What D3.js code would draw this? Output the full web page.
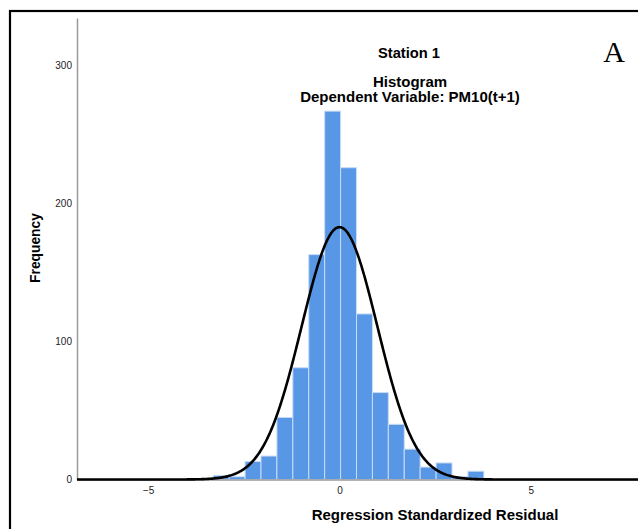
<!DOCTYPE html>
<html>
<head>
<meta charset="utf-8">
<script src="https://cdn.jsdelivr.net/npm/d3@7"></script>
<style>
body { margin: 0; background: #fff; }
text { font-family: Arial, "Liberation Sans", sans-serif; }
</style>
</head>
<body>
<script>
// histogram counts
var binStart = -3.30;
var binWidth = 0.416;
var counts = [3, 2, 13, 17, 45, 81, 163, 267, 226, 120, 63, 40, 22, 9, 12, 2, 6];

// fitted normal curve parameters
var resMean = 0.0;
var resSD = 0.99;

var xTicks = [-5, 0, 5];
var yTicks = [0, 100, 200, 300];

var width = 638, height = 529;

var svg = d3.select("body").append("svg")
    .attr("width", width)
    .attr("height", height);

// outer frame (runs off the right / bottom)
svg.append("rect")
    .attr("x", 10).attr("y", 11)
    .attr("width", 700).attr("height", 600)
    .attr("fill", "none")
    .attr("stroke", "#000")
    .attr("stroke-width", 2.2);

var x = d3.scaleLinear().domain([-6.86, 7.8]).range([77, 638]);
var y = d3.scaleLinear().domain([0, 334.5]).range([479.5, 18]);

var bins = counts.map(function(c, i) {
    return {x0: binStart + i * binWidth, x1: binStart + (i + 1) * binWidth, n: c};
});

var N = d3.sum(counts);

svg.append("g").selectAll("rect")
    .data(bins)
    .enter().append("rect")
    .attr("x", function(d) { return x(d.x0); })
    .attr("width", function(d) { return x(d.x1) - x(d.x0); })
    .attr("y", function(d) { return y(d.n); })
    .attr("height", function(d) { return y(0) - y(d.n); })
    .attr("fill", "#5797e6")
    .attr("stroke", "#c9dcf6")
    .attr("stroke-width", 1);

// axes
var xAxis = d3.axisBottom(x).tickValues(xTicks).tickSize(0).tickPadding(7);
var gx = svg.append("g")
    .attr("transform", "translate(0," + y(0) + ")")
    .call(xAxis);
gx.select(".domain").attr("stroke", "#9a9a9a").attr("stroke-width", 1.5);
gx.selectAll("text").attr("font-size", "10px").attr("fill", "#222")
    .attr("font-family", "Arial, 'Liberation Sans', sans-serif");

var yAxis = d3.axisLeft(y).tickValues(yTicks).tickSize(0).tickPadding(5);
var gy = svg.append("g")
    .attr("transform", "translate(" + x.range()[0] + ",0)")
    .call(yAxis);
gy.select(".domain").attr("stroke", "#9a9a9a").attr("stroke-width", 1.5);
gy.selectAll("text").attr("font-size", "10px").attr("fill", "#222")
    .attr("font-family", "Arial, 'Liberation Sans', sans-serif");

// normal curve
var pts = d3.range(x.domain()[0], x.domain()[1] + 0.001, 0.02).map(function(v) {
    var z = (v - resMean) / resSD;
    return [v, N * binWidth / (resSD * Math.sqrt(2 * Math.PI)) * Math.exp(-0.5 * z * z)];
});
svg.append("path")
    .datum(pts)
    .attr("fill", "none")
    .attr("stroke", "#000")
    .attr("stroke-width", 2.6)
    .attr("d", d3.line().x(function(d) { return x(d[0]); }).y(function(d) { return y(d[1]); }));

// titles
svg.append("text").attr("x", 409).attr("y", 57.5)
    .attr("text-anchor", "middle").attr("font-weight", "bold").attr("font-size", "14.7px")
    .text("Station 1");
svg.append("text").attr("x", 410).attr("y", 86.5)
    .attr("text-anchor", "middle").attr("font-weight", "bold").attr("font-size", "15px")
    .text("Histogram");
svg.append("text").attr("x", 410).attr("y", 101.5)
    .attr("text-anchor", "middle").attr("font-weight", "bold").attr("font-size", "15px")
    .text("Dependent Variable: PM10(t+1)");

svg.append("text").attr("x", 614).attr("y", 61.5)
    .attr("text-anchor", "middle").attr("font-size", "30px")
    .style("font-family", "'Liberation Serif', 'Times New Roman', serif")
    .text("A");

svg.append("text").attr("x", 435).attr("y", 520)
    .attr("text-anchor", "middle").attr("font-weight", "bold").attr("font-size", "15px")
    .text("Regression Standardized Residual");

svg.append("text")
    .attr("transform", "translate(40,248) rotate(-90)")
    .attr("text-anchor", "middle").attr("font-weight", "bold").attr("font-size", "13.8px")
    .text("Frequency");
</script>
</body>
</html>
